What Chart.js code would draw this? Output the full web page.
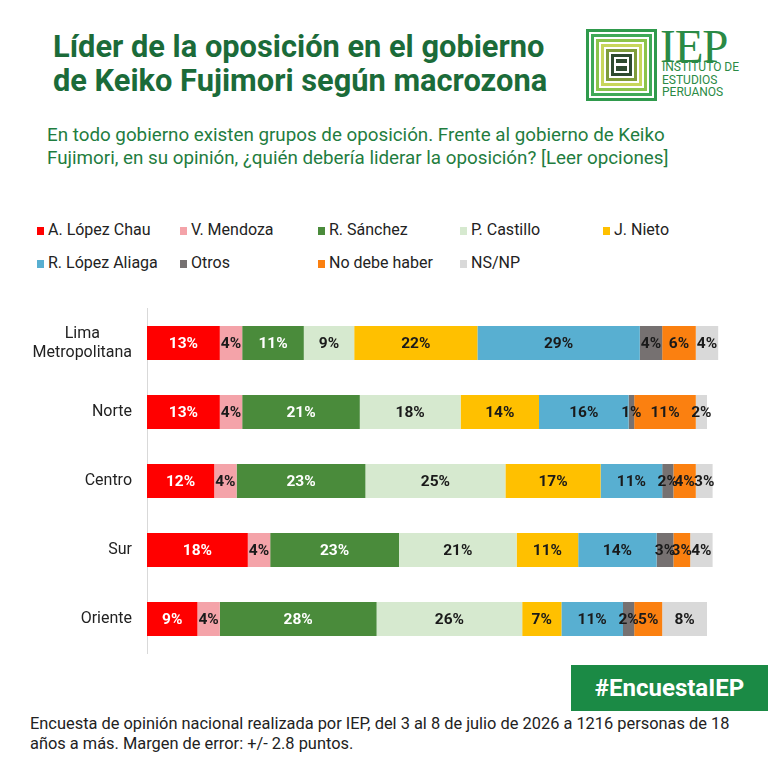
<!DOCTYPE html>
<html>
<head>
<meta charset="utf-8">
<script src="https://cdn.jsdelivr.net/npm/chart.js@4.4.1/dist/chart.umd.min.js"></script>
<style>
  body { margin: 0; background: #fff; }
  #page { position: relative; width: 768px; height: 768px; overflow: hidden; font-family: Roboto, sans-serif; }
  .abs { position: absolute; }
  #title { left: 53px; top: 30px; font-weight: 700; font-size: 30.8px; line-height: 34px; color: #1b6b39; white-space: nowrap; }
  #subtitle { left: 47px; top: 124px; font-size: 18.8px; line-height: 23px; color: #1f7d40; white-space: nowrap; }
  #legend { left: 0; top: 0; }
  .leg { position: absolute; font-size: 16px; color: #222; white-space: nowrap; }
  .leg i { display: inline-block; width: 7px; height: 8px; margin-right: 4px; vertical-align: 0px; }
  #chartBox { left: 0; top: 300px; }
  #tag { left: 571px; top: 665px; width: 197px; height: 46px; background: #1b8a45; color: #fff; font-weight: 700; font-size: 24px; line-height: 46px; text-align: center; }
  #note { left: 30px; top: 714px; font-size: 16.4px; line-height: 20px; color: #222; white-space: nowrap; }
  #iep { left: 660px; top: 19px; font-family: "Liberation Serif", serif; font-size: 47px; color: #2a8a45; letter-spacing: -1px; }
  #iepSub { left: 662px; top: 61px; font-size: 12px; line-height: 12.5px; color: #2a8a45; }
</style>
</head>
<body>
<div id="page">
  <div id="title" class="abs">Líder de la oposición en el gobierno<br>de Keiko Fujimori según macrozona</div>
  <div id="logo" class="abs" style="left:586px;top:29px;width:71px;height:72px;"></div>
  <div id="iep" class="abs">IEP</div>
  <div id="iepSub" class="abs">INSTITUTO DE<br>ESTUDIOS<br>PERUANOS</div>
  <div id="subtitle" class="abs">En todo gobierno existen grupos de oposición. Frente al gobierno de Keiko<br>Fujimori, en su opinión, ¿quién debería liderar la oposición? [Leer opciones]</div>
  <div id="legend" class="abs"></div>
  <div id="chartBox" class="abs"><canvas id="chart" width="768" height="360"></canvas></div>
  <div id="tag" class="abs">#EncuestaIEP</div>
  <div id="note" class="abs">Encuesta de opinión nacional realizada por IEP, del 3 al 8 de julio de 2026 a 1216 personas de 18<br>años a más. Margen de error: +/- 2.8 puntos.</div>
</div>
<script>
// Categories (macrozonas)
const zonas = [['Lima', 'Metropolitana'], 'Norte', 'Centro', 'Sur', 'Oriente'];

// Series, one per answer
const seriesNames = ['A. López Chau', 'V. Mendoza', 'R. Sánchez', 'P. Castillo', 'J. Nieto',
    'R. López Aliaga', 'Otros', 'No debe haber', 'NS/NP'];
const lopezChau   = [13, 13, 12, 18, 9];
const mendoza     = [4, 4, 4, 4, 4];
const sanchez     = [11, 21, 23, 23, 28];
const castillo    = [9, 18, 25, 21, 26];
const nieto       = [22, 14, 17, 11, 7];
const lopezAliaga = [29, 16, 11, 14, 11];
const otros       = [4, 1, 2, 3, 2];
const noDebeHaber = [6, 11, 4, 3, 5];
const nsnp        = [4, 2, 3, 4, 8];

const seriesData = [lopezChau, mendoza, sanchez, castillo, nieto, lopezAliaga, otros, noDebeHaber, nsnp];
const colors = ['#ff0000', '#f4a3a9', '#4a8b3b', '#d6e9cf', '#ffc000', '#58afd1', '#767171', '#fb8010', '#d9d9d9'];
const whiteText = [true, false, true, false, false, false, false, false, false];

// Logo: concentric rings
(function drawLogo() {
    const logo = document.getElementById('logo');
    const rings = ['#2f9a4c', '#fff', '#3fa957', '#fff', '#8cc44b', '#fff', '#c8d65b', '#fff', '#7f9c3a', '#fff', '#2e4a30', '#fff', '#2e4a30'];
    let inset = 0;
    rings.forEach((c) => {
        const d = document.createElement('div');
        const w = (c === '#fff') ? 2 : 3;
        d.style.cssText = `position:absolute;left:${inset}px;top:${inset}px;right:${inset}px;bottom:${inset}px;background:${c};`;
        logo.appendChild(d);
        inset += w;
    });
    const bar = document.createElement('div');
    bar.style.cssText = 'position:absolute;left:28px;right:28px;top:34px;height:3px;background:#fff;';
    logo.appendChild(bar);
})();

// HTML legend laid out in the same grid as the original
const legendCols = [37, 180, 318, 460, 603];
const legendRows = [220, 253];
const legendEl = document.getElementById('legend');
seriesNames.forEach((name, i) => {
    const item = document.createElement('div');
    item.className = 'leg';
    item.style.left = legendCols[i % 5] + 'px';
    item.style.top = legendRows[Math.floor(i / 5)] + 'px';
    item.innerHTML = `<i style="background:${colors[i]}"></i>${name}`;
    legendEl.appendChild(item);
});

// Percent labels inside each segment
const segmentLabels = {
    id: 'segmentLabels',
    afterDatasetsDraw(chart) {
        const ctx = chart.ctx;
        ctx.save();
        ctx.font = 'bold 15.5px Roboto';
        ctx.textAlign = 'center';
        ctx.textBaseline = 'middle';
        chart.data.datasets.forEach((ds, di) => {
            const meta = chart.getDatasetMeta(di);
            meta.data.forEach((bar, i) => {
                const v = ds.data[i];
                if (!v) return;
                ctx.fillStyle = whiteText[di] ? '#ffffff' : '#1a1a1a';
                ctx.fillText(v + '%', (bar.x + bar.base) / 2, bar.y + 1);
            });
        });
        ctx.restore();
    }
};

// Category labels: multi-line labels centered on their own block, block right aligned
const zoneLabels = {
    id: 'zoneLabels',
    afterDraw(chart) {
        const ctx = chart.ctx;
        const yScale = chart.scales.y;
        const right = 132;
        const lineH = 19;
        ctx.save();
        ctx.font = '16px Roboto';
        ctx.fillStyle = '#222';
        ctx.textAlign = 'center';
        ctx.textBaseline = 'middle';
        zonas.forEach((lab, i) => {
            const lines = Array.isArray(lab) ? lab : [lab];
            const w = Math.max(...lines.map(l => ctx.measureText(l).width));
            const cx = right - w / 2;
            const y0 = yScale.getPixelForValue(i) - (lines.length - 1) * lineH / 2;
            lines.forEach((l, k) => ctx.fillText(l, cx, y0 + k * lineH));
        });
        ctx.restore();
    }
};

const datasets = seriesNames.map((name, i) => ({
    label: name,
    data: seriesData[i],
    backgroundColor: colors[i],
    borderWidth: 0,
    categoryPercentage: 1,
    barPercentage: 0.49
}));

new Chart(document.getElementById('chart').getContext('2d'), {
    type: 'bar',
    data: { labels: zonas, datasets: datasets },
    options: {
        indexAxis: 'y',
        responsive: false,
        animation: false,
        devicePixelRatio: 1,
        layout: { padding: { left: 147, right: 5, top: 8.5, bottom: 6.5 } },
        plugins: {
            legend: { display: false },
            tooltip: { enabled: false }
        },
        scales: {
            x: { stacked: true, min: 0, max: 110, display: false },
            y: {
                stacked: true,
                ticks: { display: false },
                grid: { display: false, drawTicks: false, tickLength: 0 },
                border: { display: true, color: '#d9d9d9', width: 1 }
            }
        }
    },
    plugins: [segmentLabels, zoneLabels]
});
</script>
</body>
</html>
